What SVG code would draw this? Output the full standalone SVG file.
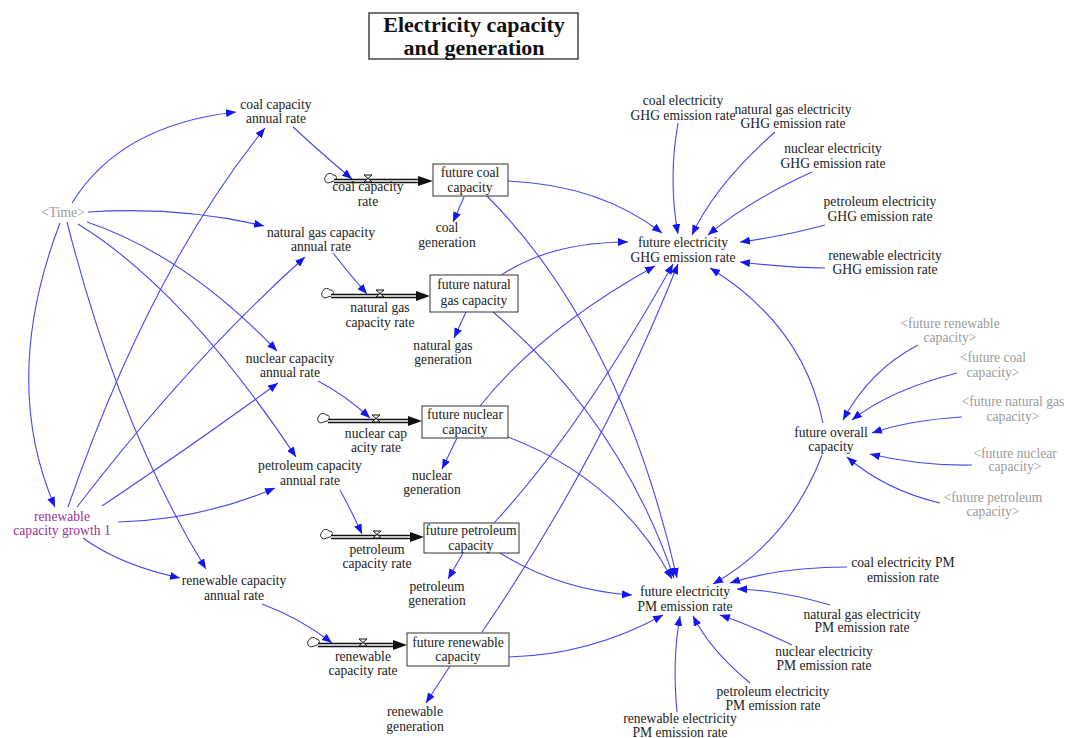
<svg xmlns="http://www.w3.org/2000/svg" width="1068" height="738" viewBox="0 0 1068 738" font-family="'Liberation Serif', 'DejaVu Serif', serif">
<style>
text{font-family:"Liberation Serif","Times New Roman","DejaVu Serif",serif;font-size:13.6px;fill:#222;text-anchor:middle}
.g{fill:#9a9a9a}
.p{fill:#993399}
.t{font-size:22px;font-weight:bold;fill:#111}
.c path{fill:none;stroke:#4848f0;stroke-width:1.1;marker-end:url(#a)}
.box{fill:#fff;stroke:#333;stroke-width:1}
.pipe{stroke:#111;stroke-width:4.5;fill:none}
.pipein{stroke:#fff;stroke-width:1.6;fill:none}
.valve{fill:#fff;stroke:#111;stroke-width:1}
.cloud{fill:#fff;stroke:#333;stroke-width:1}
</style>
<defs>
<marker id="a" viewBox="0 0 10 8" refX="10" refY="4" markerWidth="10" markerHeight="8" markerUnits="userSpaceOnUse" orient="auto"><path d="M0,0 L10,4 L0,8 z" fill="#1515f0"/></marker>
</defs>
<rect width="1068" height="738" fill="#fff"/>

<g id="title">
<rect x="369" y="13" width="209" height="46" fill="#fff" stroke="#444" stroke-width="1.5"/>
<text class="t" x="474" y="32">Electricity capacity</text>
<text class="t" x="474" y="55">and generation</text>
</g>

<g id="connectors" class="c">
<path d="M72,203 Q120,125 236,112"/>
<path d="M88,212 Q180,206 264,226"/>
<path d="M87,222 Q185,255 277,351"/>
<path d="M78,224 Q185,290 296,457"/>
<path d="M67,222 Q120,430 206,569"/>
<path d="M60,223 Q0,380 55,507"/>
<path d="M68,507 Q150,270 265,128"/>
<path d="M77,507 Q190,360 305,257"/>
<path d="M102,506 Q200,440 278,383"/>
<path d="M118,522 Q200,520 275,488"/>
<path d="M83,538 Q120,565 180,578"/>
<path d="M293,127 Q320,152 352,179"/>
<path d="M333,253 Q350,275 367,294"/>
<path d="M318,381 Q345,395 370,418"/>
<path d="M340,490 Q352,512 362,534"/>
<path d="M262,604 Q300,618 332,643"/>
<path d="M464,197 L453,222"/>
<path d="M466,312 L454,338"/>
<path d="M457,438 L442,469"/>
<path d="M463,553 L448,579"/>
<path d="M450,666 L426,703"/>
<path d="M508,181 Q600,185 662,233"/>
<path d="M487,196 Q620,330 677,578"/>
<path d="M500,276 Q550,242 628,242"/>
<path d="M493,312 Q620,420 674,578"/>
<path d="M480,406 Q540,330 655,266"/>
<path d="M508,437 Q620,480 672,579"/>
<path d="M494,523 Q580,430 673,264"/>
<path d="M500,553 Q560,590 632,595"/>
<path d="M482,632 Q600,460 678,264"/>
<path d="M509,657 Q590,655 663,615"/>
<path d="M678,123 Q668,180 678,234"/>
<path d="M775,132 Q715,185 692,235"/>
<path d="M812,172 Q750,200 708,235"/>
<path d="M825,225 Q785,236 740,242"/>
<path d="M825,268 Q790,268 740,262"/>
<path d="M823,423 Q803,325 710,268"/>
<path d="M822,455 Q790,540 713,584"/>
<path d="M918,345 Q870,370 843,420"/>
<path d="M957,373 Q890,390 852,420"/>
<path d="M962,417 Q910,420 872,433"/>
<path d="M972,465 Q920,466 870,454"/>
<path d="M940,503 Q885,490 847,457"/>
<path d="M847,567 Q780,567 730,583"/>
<path d="M830,605 Q780,590 737,589"/>
<path d="M792,645 Q750,625 720,615"/>
<path d="M750,683 Q710,650 693,616"/>
<path d="M677,712 Q672,660 680,616"/>
</g>

<g id="flows">
<g id="flow-coal">
<path class="cloud" d="M328,183 a4,4 0 0 1 -2,-7 a4,4 0 0 1 7,-1 a3,3 0 0 1 1,6 z"/>
<path class="pipe" d="M334,181 H420"/><path class="pipein" d="M334,181 H420"/>
<path d="M418,176 L433,181 L418,186 z" fill="#111"/>
<path class="valve" d="M364,175 H372 L364,182 H372 Z"/>
</g>
<g id="flow-ng">
<path class="cloud" d="M325,298 a4,4 0 0 1 -2,-7 a4,4 0 0 1 7,-1 a3,3 0 0 1 1,6 z"/>
<path class="pipe" d="M331,296 H417"/><path class="pipein" d="M331,296 H417"/>
<path d="M416,291 L430,296 L416,301 z" fill="#111"/>
<path class="valve" d="M376,290 H384 L376,297 H384 Z"/>
</g>
<g id="flow-nuclear">
<path class="cloud" d="M321,423 a4,4 0 0 1 -2,-7 a4,4 0 0 1 7,-1 a3,3 0 0 1 1,6 z"/>
<path class="pipe" d="M328,421 H409"/><path class="pipein" d="M328,421 H409"/>
<path d="M408,416 L422,421 L408,426 z" fill="#111"/>
<path class="valve" d="M372,415 H380 L372,422 H380 Z"/>
</g>
<g id="flow-petroleum">
<path class="cloud" d="M324,539 a4,4 0 0 1 -2,-7 a4,4 0 0 1 7,-1 a3,3 0 0 1 1,6 z"/>
<path class="pipe" d="M331,537 H411"/><path class="pipein" d="M331,537 H411"/>
<path d="M410,532 L424,537 L410,542 z" fill="#111"/>
<path class="valve" d="M373,531 H381 L373,538 H381 Z"/>
</g>
<g id="flow-renewable">
<path class="cloud" d="M311,647 a4,4 0 0 1 -2,-7 a4,4 0 0 1 7,-1 a3,3 0 0 1 1,6 z"/>
<path class="pipe" d="M318,645 H394"/><path class="pipein" d="M318,645 H394"/>
<path d="M393,640 L407,645 L393,650 z" fill="#111"/>
<path class="valve" d="M359,639 H367 L359,646 H367 Z"/>
</g>
</g>

<g id="coal-capacity-annual-rate"><text x="276" y="109">coal capacity</text><text x="276" y="123">annual rate</text></g>
<g id="time"><text class="g" x="63" y="217">&lt;Time&gt;</text></g>
<g id="ng-capacity-annual-rate"><text x="321" y="237">natural gas capacity</text><text x="321" y="251">annual rate</text></g>
<g id="nuclear-capacity-annual-rate"><text x="290" y="363">nuclear capacity</text><text x="290" y="377">annual rate</text></g>
<g id="petroleum-capacity-annual-rate"><text x="310" y="470">petroleum capacity</text><text x="310" y="485">annual rate</text></g>
<g id="renewable-capacity-growth"><text class="p" x="62" y="521">renewable</text><text class="p" x="62" y="535">capacity growth 1</text></g>
<g id="renewable-capacity-annual-rate"><text x="234" y="585">renewable capacity</text><text x="234" y="600">annual rate</text></g>

<g id="future-coal-capacity"><rect class="box" x="433" y="164" width="75" height="32"/><text x="470" y="177">future coal</text><text x="470" y="192">capacity</text></g>
<g id="future-ng-capacity"><rect class="box" x="430" y="275" width="88" height="37"/><text x="474" y="289">future natural</text><text x="474" y="305">gas capacity</text></g>
<g id="future-nuclear-capacity"><rect class="box" x="422" y="406" width="86" height="32"/><text x="465" y="419">future nuclear</text><text x="465" y="434">capacity</text></g>
<g id="future-petroleum-capacity"><rect class="box" x="424" y="523" width="95" height="30"/><text x="471" y="535">future petroleum</text><text x="471" y="550">capacity</text></g>
<g id="future-renewable-capacity"><rect class="box" x="407" y="633" width="102" height="33"/><text x="458" y="647">future renewable</text><text x="458" y="661">capacity</text></g>

<g id="coal-capacity-rate"><text x="368" y="191">coal capacity</text><text x="368" y="206">rate</text></g>
<g id="ng-capacity-rate"><text x="380" y="312">natural gas</text><text x="380" y="327">capacity rate</text></g>
<g id="nuclear-capacity-rate"><text x="376" y="438">nuclear cap</text><text x="376" y="452">acity rate</text></g>
<g id="petroleum-capacity-rate"><text x="377" y="554">petroleum</text><text x="377" y="568">capacity rate</text></g>
<g id="renewable-capacity-rate"><text x="363" y="661">renewable</text><text x="363" y="675">capacity rate</text></g>

<g id="coal-generation"><text x="447" y="232">coal</text><text x="447" y="247">generation</text></g>
<g id="ng-generation"><text x="443" y="350">natural gas</text><text x="443" y="364">generation</text></g>
<g id="nuclear-generation"><text x="432" y="480">nuclear</text><text x="432" y="494">generation</text></g>
<g id="petroleum-generation"><text x="437" y="591">petroleum</text><text x="437" y="605">generation</text></g>
<g id="renewable-generation"><text x="415" y="716">renewable</text><text x="415" y="731">generation</text></g>

<g id="coal-ghg"><text x="683" y="105">coal electricity</text><text x="683" y="120">GHG emission rate</text></g>
<g id="ng-ghg"><text x="793" y="114">natural gas electricity</text><text x="793" y="128">GHG emission rate</text></g>
<g id="nuclear-ghg"><text x="833" y="153">nuclear electricity</text><text x="833" y="168">GHG emission rate</text></g>
<g id="petroleum-ghg"><text x="880" y="206">petroleum electricity</text><text x="880" y="221">GHG emission rate</text></g>
<g id="renewable-ghg"><text x="885" y="260">renewable electricity</text><text x="885" y="274">GHG emission rate</text></g>
<g id="future-ghg"><text x="683" y="247">future electricity</text><text x="683" y="262">GHG emission rate</text></g>

<g id="future-overall-capacity"><text x="831" y="437">future overall</text><text x="831" y="451">capacity</text></g>
<g id="sh-renewable"><text class="g" x="950" y="328">&lt;future renewable</text><text class="g" x="950" y="342">capacity&gt;</text></g>
<g id="sh-coal"><text class="g" x="993" y="362">&lt;future coal</text><text class="g" x="993" y="377">capacity&gt;</text></g>
<g id="sh-ng"><text class="g" x="1013" y="406">&lt;future natural gas</text><text class="g" x="1013" y="421">capacity&gt;</text></g>
<g id="sh-nuclear"><text class="g" x="1015" y="458">&lt;future nuclear</text><text class="g" x="1015" y="471">capacity&gt;</text></g>
<g id="sh-petroleum"><text class="g" x="993" y="502">&lt;future petroleum</text><text class="g" x="993" y="516">capacity&gt;</text></g>

<g id="future-pm"><text x="685" y="596">future electricity</text><text x="685" y="611">PM emission rate</text></g>
<g id="coal-pm"><text x="903" y="567">coal electricity PM</text><text x="903" y="582">emission rate</text></g>
<g id="ng-pm"><text x="862" y="619">natural gas electricity</text><text x="862" y="632">PM emission rate</text></g>
<g id="nuclear-pm"><text x="824" y="656">nuclear electricity</text><text x="824" y="670">PM emission rate</text></g>
<g id="petroleum-pm"><text x="773" y="696">petroleum electricity</text><text x="773" y="710">PM emission rate</text></g>
<g id="renewable-pm"><text x="680" y="723">renewable electricity</text><text x="680" y="737">PM emission rate</text></g>
</svg>
